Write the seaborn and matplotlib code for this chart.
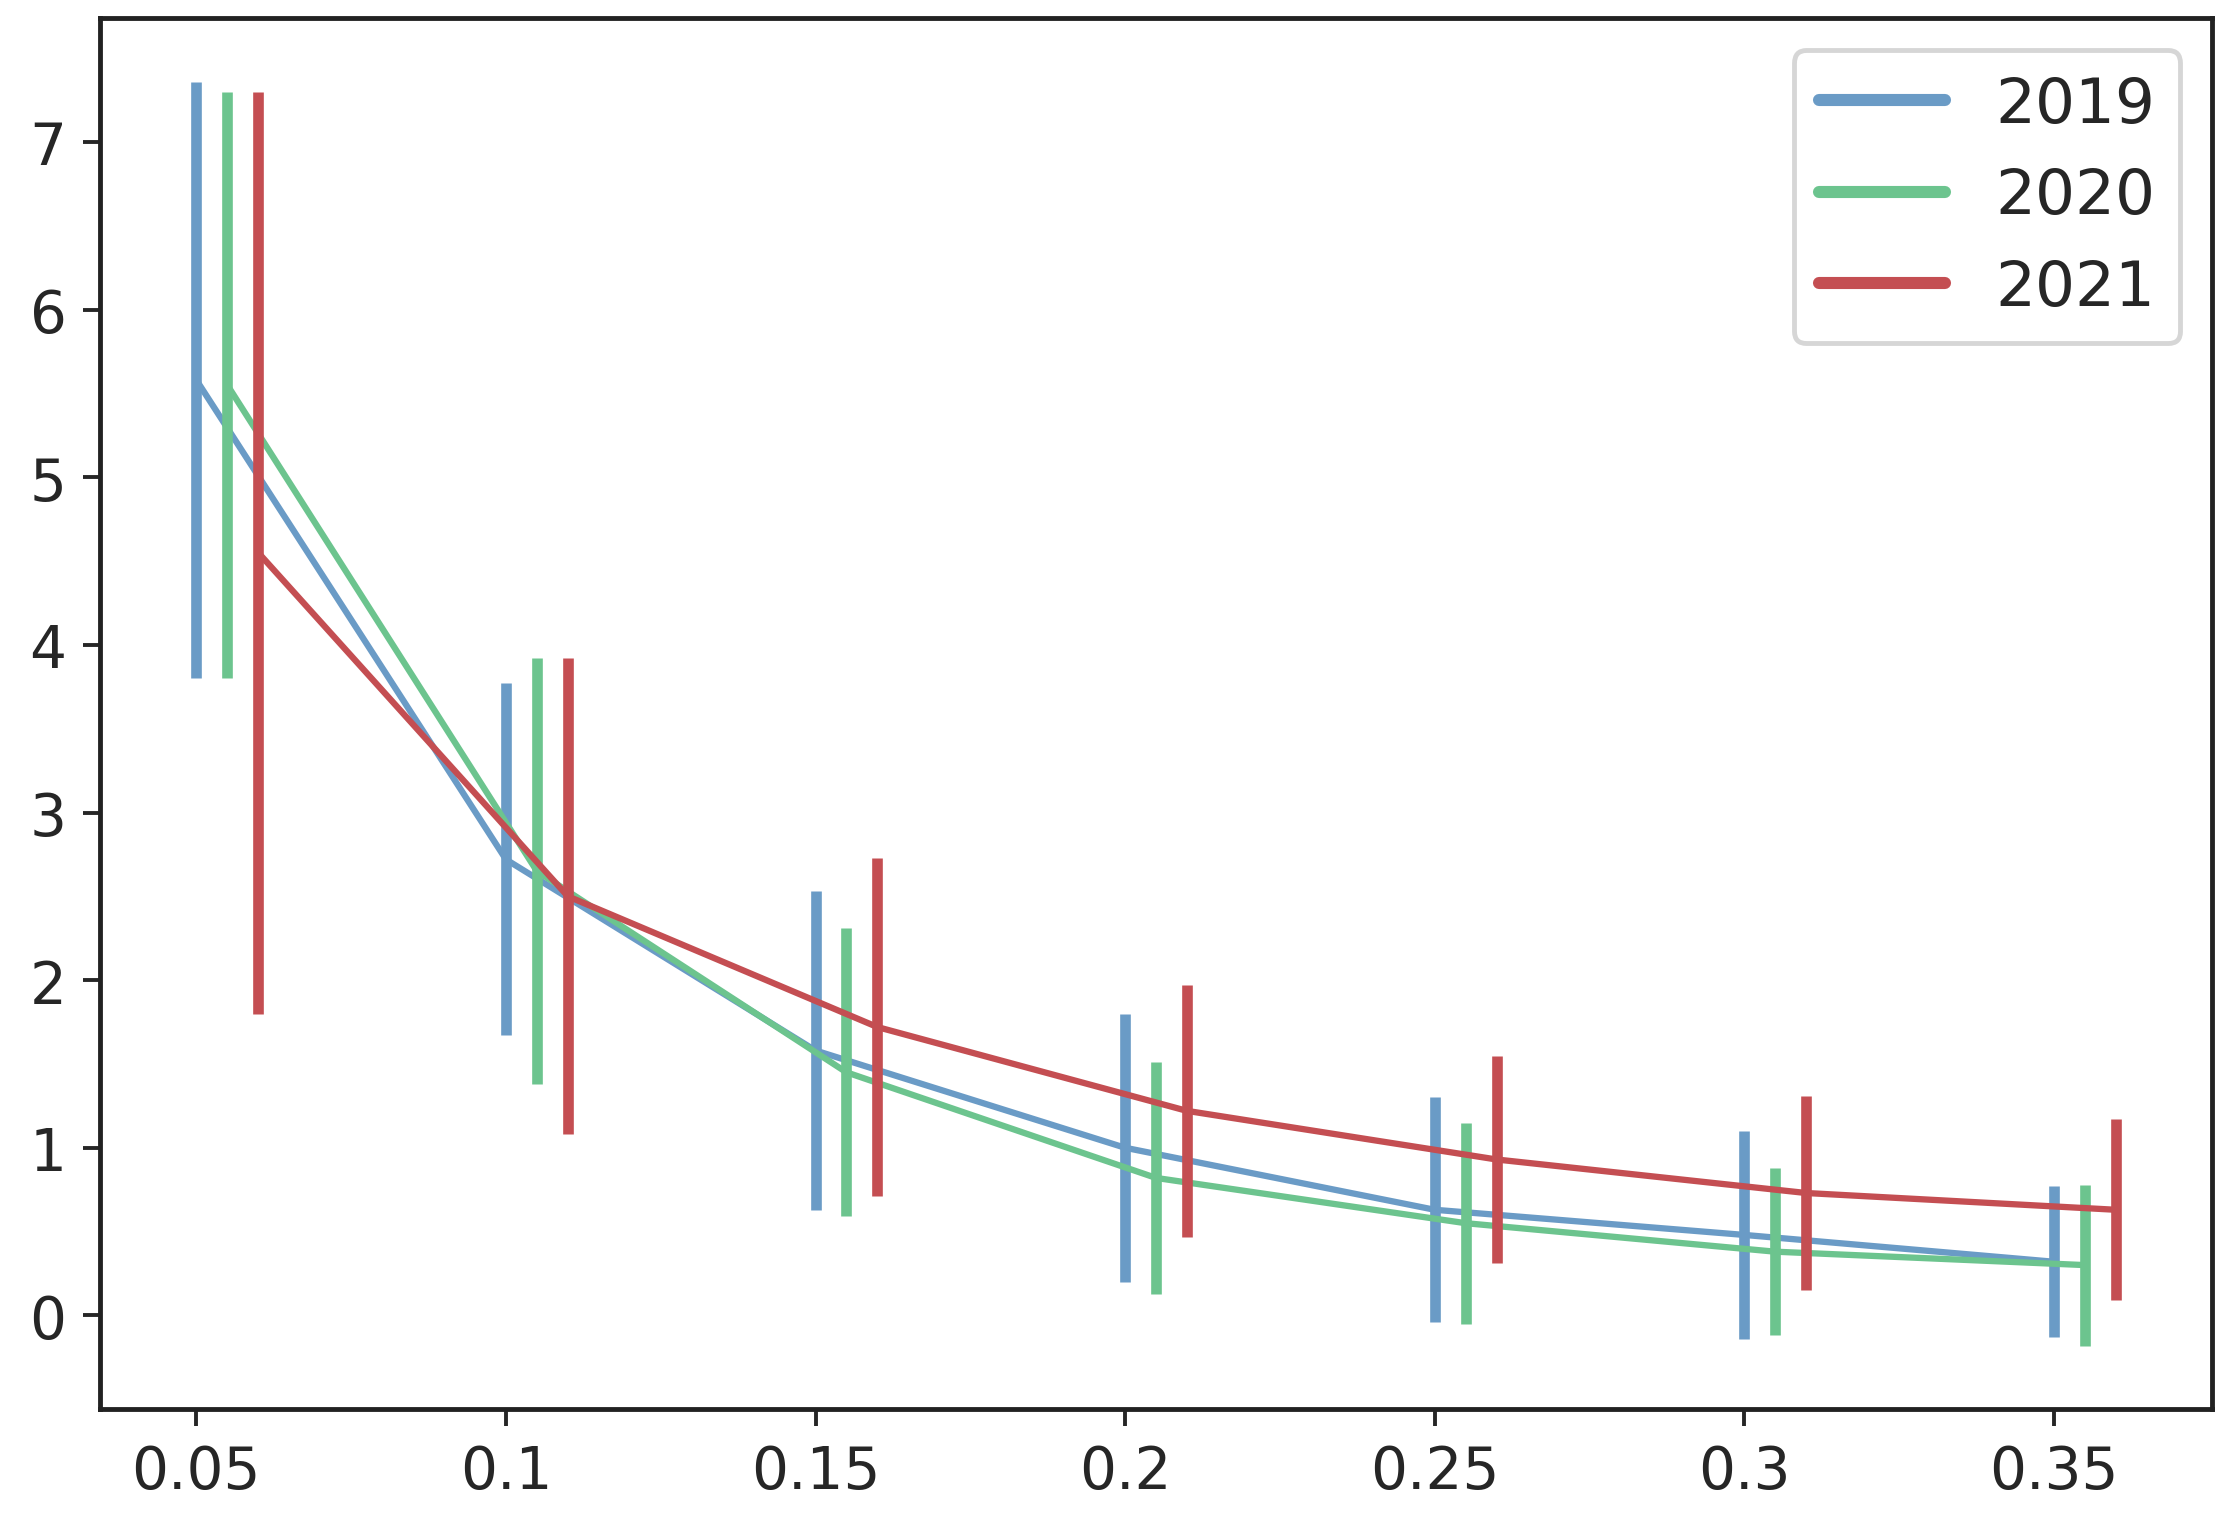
import matplotlib
matplotlib.use("Agg")
import matplotlib.pyplot as plt
import seaborn as sns
import numpy as np
import pandas as pd

x = [0.05, 0.10, 0.15, 0.20, 0.25, 0.30, 0.35]
years = ["2019", "2020", "2021"]
offsets = [0.0, 0.005, 0.01]
means = {
    "2019": [5.58, 2.72, 1.58, 1.00, 0.63, 0.48, 0.32],
    "2020": [5.55, 2.65, 1.45, 0.82, 0.55, 0.38, 0.30],
    "2021": [4.55, 2.50, 1.72, 1.22, 0.93, 0.73, 0.63],
}
errs = {
    "2019": [1.78, 1.05, 0.95, 0.80, 0.67, 0.62, 0.45],
    "2020": [1.75, 1.27, 0.86, 0.69, 0.60, 0.50, 0.48],
    "2021": [2.75, 1.42, 1.01, 0.75, 0.62, 0.58, 0.54],
}
colors = {"2019": "#6a9bc6", "2020": "#6cc48e", "2021": "#c44e52"}

sns.set_style("white")
fig, ax = plt.subplots(figsize=(6.4, 4.36), dpi=348.6)
for y, off in zip(years, offsets):
    xs = np.array(x) + off
    df = pd.DataFrame({"x": xs, "y": means[y]})
    sns.lineplot(data=df, x="x", y="y", ax=ax, color=colors[y], lw=1.3, label=y)
    ax.errorbar(xs, means[y], yerr=errs[y], fmt="none", ecolor=colors[y], elinewidth=2.2, capsize=0)

ax.set_xticks(x)
ax.set_xticklabels(["0.05", "0.1", "0.15", "0.2", "0.25", "0.3", "0.35"])
ax.set_yticks(range(0, 8))
ax.set_xlabel("")
ax.set_ylabel("")
ax.tick_params(axis="both", length=3.5, labelsize=12, left=True, bottom=True)
for s in ax.spines.values():
    s.set_color("#222222")
    s.set_linewidth(1.0)
leg = ax.legend(loc="upper right", fontsize=13)
for l in leg.get_lines():
    l.set_linewidth(2.5)
fig.tight_layout(pad=0.4)
fig.subplots_adjust(left=0.045)
fig.savefig("out.png")
